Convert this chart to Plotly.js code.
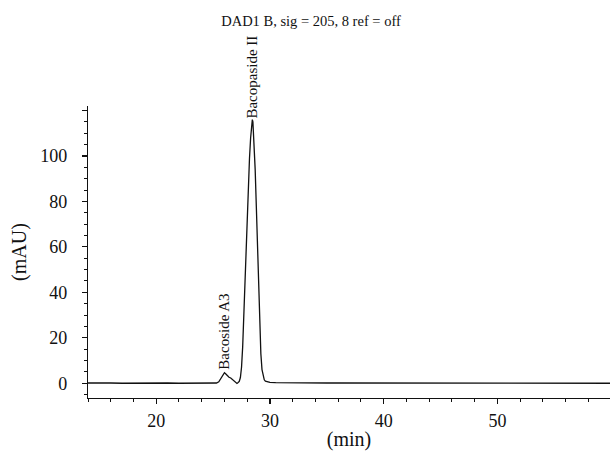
<!DOCTYPE html>
<html>
<head>
<meta charset="utf-8">
<script src="https://cdn.plot.ly/plotly-3.0.1.min.js"></script>
<style>html,body{margin:0;padding:0;background:#fff;}#chart{width:611px;height:459px;}</style>
</head>
<body>
<div id="chart"></div>
<script>
// Retention time (min)
const timeMin = [14.0, 15, 16, 17, 18, 19, 20, 21, 22, 23, 24, 24.5, 25, 25.3, 25.5, 25.7, 25.85, 26.0, 26.1, 26.25, 26.4, 26.55, 26.7, 26.85, 27.0, 27.1,
  27.2, 27.3, 27.4, 27.5, 27.6, 27.7, 27.8, 27.9, 28.0, 28.1, 28.2, 28.3, 28.4, 28.45, 28.5, 28.6, 28.7, 28.8, 28.9, 29.0, 29.1, 29.2, 29.3, 29.4, 29.5, 29.6, 29.8, 30.0,
  30.5, 31, 32, 33, 34, 35, 36, 37, 38, 39, 40, 41, 42, 43, 44, 45, 46, 47, 48, 49, 50, 51, 52, 53, 54, 55, 56, 57, 58, 59, 59.9];
// Absorbance (mAU)
const signalMAU = [0.1, 0.2, 0.1, 0.0, 0.1, 0.0, 0.0, 0.1, 0.0, 0.0, 0.1, 0.0, 0.1, 0.1, 0.6, 2.2, 3.8, 4.6, 4.2, 3.2, 2.6, 2.3, 1.7, 1.0, 0.3, -0.1,
  0.3, 0.8, 2.5, 7, 16, 30, 46, 62, 76, 88, 99, 108, 114.5, 116, 115, 107, 94, 78, 61, 43, 26, 13, 6, 2.8, 1.5, 0.9, 0.5, 0.35,
  0.25, 0.2, 0.2, 0.2, 0.15, 0.1, 0.1, 0.1, 0.05, 0.0, -0.1, -0.1, -0.2, -0.1, -0.1, -0.2, -0.1, -0.1, -0.1, -0.1, -0.1, 0.0, -0.1, 0.0, 0.0, 0.1, 0.0, 0.1, 0.0, 0.0, 0.0];

const peakNames = ["Bacoside A3", "Bacopaside II"];
const peakTimes = [26.0, 28.45];
const peakLabelY = [5.3, 115.5];

const chartTitle = "DAD1 B, sig = 205, 8 ref = off";
const xTitle = "(min)";
const yTitle = "(mAU)";
const xTickVals = [20, 30, 40, 50];
const yTickVals = [0, 20, 40, 60, 80, 100, 120];
const yTickText = ["0", "20", "40", "60", "80", "100", ""];

const serif = "Liberation Serif, Times New Roman, serif";

const trace = {
  x: timeMin, y: signalMAU, type: "scatter", mode: "lines",
  line: {color: "#111", width: 1.3}, hoverinfo: "skip"
};

const annotations = peakNames.map((n, i) => ({
  x: peakTimes[i], y: peakLabelY[i], xref: "x", yref: "y",
  text: n, showarrow: false, textangle: -90,
  xanchor: "center", yanchor: "bottom",
  font: {family: serif, size: 15, color: "#111"}
}));

const layout = {
  width: 611, height: 459,
  margin: {l: 88, r: 1, t: 106, b: 61},
  paper_bgcolor: "#fff", plot_bgcolor: "#fff",
  showlegend: false,
  title: {text: chartTitle, font: {family: serif, size: 14.5, color: "#111"},
          xref: "container", x: 0.509, xanchor: "center",
          yref: "container", y: 1 - 21/459, yanchor: "middle"},
  xaxis: {
    range: [14, 59.9], showgrid: false, zeroline: false,
    showline: true, linecolor: "#111", linewidth: 1.2,
    ticks: "outside", ticklen: 5, tickwidth: 1.2, tickcolor: "#111",
    tickvals: xTickVals, ticklabelstandoff: 1,
    minor: {dtick: 2, tick0: 0, ticks: "outside", ticklen: 3, tickwidth: 1, tickcolor: "#111", showgrid: false},
    tickfont: {family: serif, size: 18, color: "#111"},
    title: {text: xTitle, font: {family: serif, size: 20, color: "#111"}, standoff: 2},
    automargin: false
  },
  yaxis: {
    range: [-6.5, 122], showgrid: false, zeroline: false,
    showline: true, linecolor: "#111", linewidth: 1.2,
    ticks: "outside", ticklen: 5, tickwidth: 1.2, tickcolor: "#111",
    tickvals: yTickVals, ticktext: yTickText, ticklabelstandoff: 11,
    minor: {dtick: 5, tick0: 0, ticks: "outside", ticklen: 3, tickwidth: 1, tickcolor: "#111", showgrid: false},
    tickfont: {family: serif, size: 18, color: "#111"},
    title: {text: yTitle, font: {family: serif, size: 20, color: "#111"}, standoff: 8},
    automargin: false
  },
  annotations: annotations
};

Plotly.newPlot("chart", [trace], layout, {displayModeBar: false, staticPlot: true});
</script>
</body>
</html>
